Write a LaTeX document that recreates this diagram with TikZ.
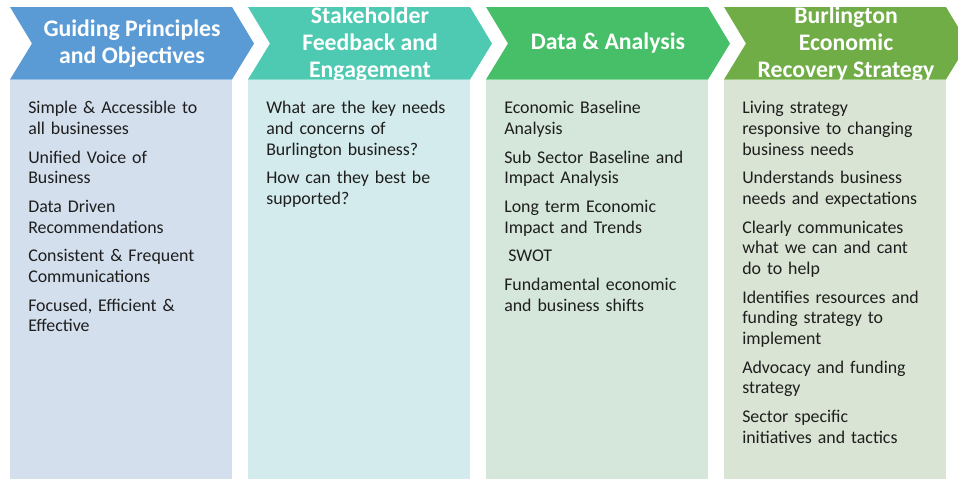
\documentclass[tikz,border=0pt]{standalone}
\usepackage{fontspec}
\setmainfont{Carlito}
\definecolor{chA}{HTML}{5B9BD5}
\definecolor{chB}{HTML}{4ECAB3}
\definecolor{chC}{HTML}{47BF68}
\definecolor{chD}{HTML}{70AD47}
\definecolor{bdA}{HTML}{D4DFEE}
\definecolor{bdB}{HTML}{D3EBEC}
\definecolor{bdC}{HTML}{D4E7DA}
\definecolor{bdD}{HTML}{DAE4D4}
\definecolor{bodytext}{HTML}{1E1E1E}
\begin{document}
\begin{tikzpicture}[x=0.75pt,y=-0.75pt,
  head/.style={text=white, font=\bfseries\fontsize{17.8}{20.2}\selectfont, align=center, inner sep=0pt},
  body/.style={text=bodytext, font=\fontsize{13.4}{15.5}\selectfont, align=left, anchor=north west, inner sep=0pt, text width=170pt}]
\useasboundingbox (0,0) rectangle (958,479);
\clip (0,0) rectangle (958,479);
% chevrons
\foreach \L/\c in {10/chA,248/chB,486/chC,724/chD}{
  \fill[\c] (\L,7) -- (\L+222,7) -- (\L+244,43.5) -- (\L+222,79.5) -- (\L,79.5) -- (\L+22,43.5) -- cycle;
}
% header texts
\node[head] (h1) at (132,44) {Guiding Principles\\and Objectives};
\node[head] (h2) at (370,44.5) {Stakeholder\\Feedback and\\Engagement};
\node[head] (h3) at (608,43.5) {Data \& Analysis};
\node[head] (h4) at (846,44.5) {Burlington\\Economic\\Recovery Strategy};
% body boxes
\fill[bdA] (10,79.5) rectangle (232,479);
\fill[bdB] (248,79.5) rectangle (470,479);
\fill[bdC] (486,79.5) rectangle (708,479);
\fill[bdD] (724,79.5) rectangle (946,479);
% body texts
\node[body] (b1) at (28,99) {\strut Simple \& Accessible to\\all businesses\\[6pt]
Unified Voice of\\Business\\[6pt]
Data Driven\\Recommendations\\[6pt]
Consistent \& Frequent\\Communications\\[6pt]
Focused, Efficient \&\\Effective};
\node[body] (b2) at (266,99) {\strut What are the key needs\\and concerns of\\Burlington business?\\[6pt]
How can they best be\\supported?};
\node[body] (b3) at (504,99) {\strut Economic Baseline\\Analysis\\[6pt]
Sub Sector Baseline and\\Impact Analysis\\[6pt]
Long term Economic\\Impact and Trends\\[6pt]
\hspace*{3pt}SWOT\\[6pt]
Fundamental economic\\and business shifts};
\node[body] (b4) at (742,99) {\strut Living strategy\\responsive to changing\\business needs\\[6pt]
Understands business\\needs and expectations\\[6pt]
Clearly communicates\\what we can and cant\\do to help\\[6pt]
Identifies resources and\\funding strategy to\\implement\\[6pt]
Advocacy and funding\\strategy\\[6pt]
Sector specific\\initiatives and tactics};
\end{tikzpicture}
\end{document}
